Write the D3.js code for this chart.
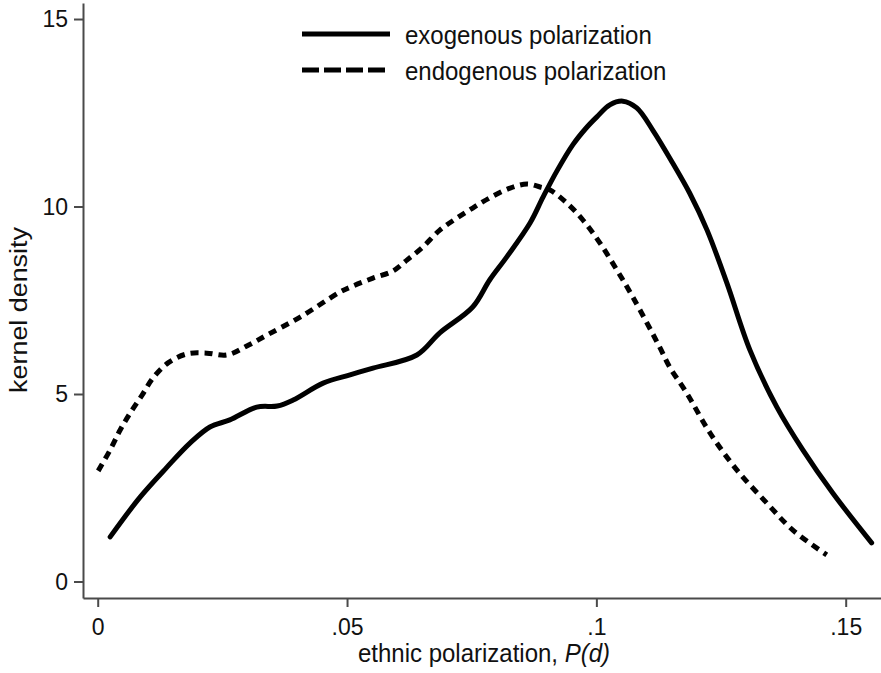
<!DOCTYPE html>
<html>
<head>
<meta charset="utf-8">
<script src="https://cdn.jsdelivr.net/npm/d3@7"></script>
<style>
  html, body { margin: 0; padding: 0; background: #fff; }
  svg { display: block; font-family: "Liberation Sans", Arial, sans-serif; }
</style>
</head>
<body>
<div id="chart"></div>
<script>
/* ---------- data ---------- */
const exoX = [0.0025, 0.0085, 0.0139, 0.0185, 0.0225, 0.0265, 0.0319, 0.0360, 0.0392, 0.0452,
              0.0506, 0.0552, 0.0640, 0.0686, 0.0752, 0.0786, 0.0820, 0.0867, 0.0893, 0.0921,
              0.0953, 0.0980, 0.1001, 0.1027, 0.1053, 0.1081, 0.1113, 0.1153, 0.1187, 0.1222,
              0.1262, 0.1308, 0.1362, 0.1414, 0.1474, 0.1552];
const exoY = [1.19, 2.25, 3.05, 3.69, 4.12, 4.31, 4.65, 4.68, 4.84, 5.29,
              5.51, 5.69, 6.04, 6.63, 7.32, 8.04, 8.65, 9.56, 10.25, 10.95,
              11.65, 12.10, 12.39, 12.71, 12.81, 12.63, 12.04, 11.16, 10.36, 9.37,
              7.95, 6.17, 4.65, 3.51, 2.36, 1.03];

const endoX = [0.0001, 0.0025, 0.0045, 0.0065, 0.0089, 0.0111, 0.0141, 0.0179, 0.0219, 0.0259,
               0.0299, 0.0339, 0.0406, 0.0486, 0.0512, 0.0552, 0.0592, 0.0620, 0.0652, 0.0686,
               0.0720, 0.0752, 0.0786, 0.0827, 0.0861, 0.0887, 0.0907, 0.0941, 0.0973, 0.1007,
               0.1041, 0.1073, 0.1127, 0.1147, 0.1181, 0.1228, 0.1282, 0.1342, 0.1394, 0.1462];
const endoY = [2.95, 3.51, 4.04, 4.49, 4.97, 5.43, 5.83, 6.07, 6.09, 6.04,
               6.28, 6.57, 7.05, 7.72, 7.88, 8.09, 8.28, 8.57, 8.92, 9.37,
               9.69, 9.96, 10.23, 10.49, 10.60, 10.52, 10.44, 10.09, 9.64, 9.03,
               8.31, 7.59, 6.25, 5.72, 5.03, 3.96, 2.97, 2.09, 1.37, 0.71];

const xTicks = [0, 0.05, 0.1, 0.15];
const xTickLabels = ['0', '.05', '.1', '.15'];
const yTicks = [0, 5, 10, 15];

const seriesNames = ['exogenous polarization', 'endogenous polarization'];

/* ---------- layout ---------- */
const W = 881, H = 673;
const FS_TICK = 23, FS = 24, STRETCH = 1.07;   // text is a touch taller than wide

const svg = d3.select('#chart').append('svg')
  .attr('width', W).attr('height', H);

const x = d3.scaleLinear().domain([-0.00295, 0.15708]).range([83, 881]);
const y = d3.scaleLinear().domain([-0.44, 15.427]).range([598, 3]);

function stretch(sel) {
  sel.each(function () {
    const t = d3.select(this);
    const tx = +t.attr('x') || 0, ty = +t.attr('y') || 0;
    t.attr('x', 0).attr('y', 0)
     .attr('transform', `translate(${tx},${ty}) scale(1,${STRETCH})`);
  });
}

/* ---------- axes ---------- */
const gx = svg.append('g')
  .attr('transform', `translate(0,${y.range()[0]})`)
  .call(d3.axisBottom(x).tickValues(xTicks)
    .tickFormat((d, i) => xTickLabels[i])
    .tickSize(9).tickSizeOuter(0).tickPadding(11));

const gy = svg.append('g')
  .attr('transform', `translate(${x.range()[0]},0)`)
  .call(d3.axisLeft(y).tickValues(yTicks)
    .tickSize(9).tickSizeOuter(0).tickPadding(6));

[gx, gy].forEach(g => {
  g.select('.domain').attr('stroke', '#4a4a4a').attr('stroke-width', 2);
  g.selectAll('.tick line').attr('stroke', '#4a4a4a').attr('stroke-width', 2);
  g.selectAll('.tick text')
    .attr('font-size', FS_TICK)
    .attr('font-family', '"Liberation Sans", Arial, sans-serif')
    .attr('fill', '#111')
    .call(stretch);
});

/* axis titles */
svg.append('text')
  .attr('transform', `translate(484,662) scale(1,${STRETCH})`)
  .attr('text-anchor', 'middle')
  .attr('font-size', FS)
  .attr('fill', '#111')
  .call(t => {
    t.append('tspan').text('ethnic polarization, ');
    t.append('tspan').attr('font-style', 'italic').text('P(d)');
  });

svg.append('text')
  .attr('transform', 'translate(27,310) rotate(-90) scale(1.12,1)')
  .attr('text-anchor', 'middle')
  .attr('font-size', FS)
  .attr('fill', '#111')
  .text('kernel density');

/* ---------- curves ---------- */
const line = d3.line()
  .x(d => x(d[0]))
  .y(d => y(d[1]))
  .curve(d3.curveCatmullRom.alpha(0.5));

const exo = exoX.map((v, i) => [v, exoY[i]]);
const endo = endoX.map((v, i) => [v, endoY[i]]);

svg.append('path')
  .datum(endo)
  .attr('d', line)
  .attr('fill', 'none')
  .attr('stroke', '#000')
  .attr('stroke-width', 5)
  .attr('stroke-dasharray', '8,6');

svg.append('path')
  .datum(exo)
  .attr('d', line)
  .attr('fill', 'none')
  .attr('stroke', '#000')
  .attr('stroke-width', 5)
  .attr('stroke-linecap', 'round');

/* ---------- legend ---------- */
const legend = svg.append('g');
const dashes = [null, '17,5'];
seriesNames.forEach((name, i) => {
  const ly = 34 + i * 36;
  legend.append('line')
    .attr('x1', 302).attr('x2', 390)
    .attr('y1', ly).attr('y2', ly)
    .attr('stroke', '#000').attr('stroke-width', 5)
    .attr('stroke-dasharray', dashes[i]);
  legend.append('text')
    .attr('transform', `translate(405,${ly + 10}) scale(1,${STRETCH})`)
    .attr('font-size', FS)
    .attr('fill', '#111')
    .text(name);
});
</script>
</body>
</html>
